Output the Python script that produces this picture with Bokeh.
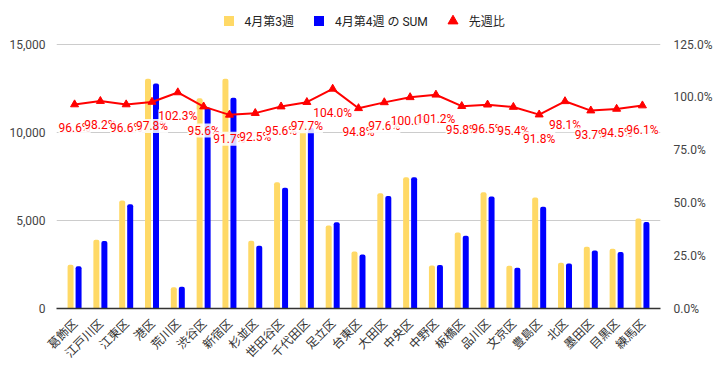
import math
from bokeh.plotting import figure
from bokeh.models import (FactorRange, Range1d, LinearAxis, FixedTicker,
                          NumeralTickFormatter, Legend, LegendItem, ColumnDataSource)
from bokeh.transform import dodge
from bokeh.core.properties import value
from bokeh.embed import file_html
from bokeh.resources import INLINE

wards = ["葛飾区", "江戸川区", "江東区", "港区", "荒川区", "渋谷区", "新宿区", "杉並区",
         "世田谷区", "千代田区", "足立区", "台東区", "大田区", "中央区", "中野区", "板橋区",
         "品川区", "文京区", "豊島区", "北区", "墨田区", "目黒区", "練馬区"]
week3 = [2490, 3910, 6140, 13060, 1210, 11940, 13060, 3855, 7175, 10500, 4715, 3240,
         6545, 7460, 2440, 4315, 6600, 2425, 6300, 2600, 3510, 3400, 5115]
week4 = [2405, 3840, 5930, 12780, 1238, 11415, 11980, 3565, 6860, 10260, 4905, 3070,
         6390, 7460, 2470, 4135, 6370, 2315, 5785, 2550, 3290, 3215, 4915]
ratio_pct = [96.6, 98.2, 96.6, 97.8, 102.3, 95.6, 91.7, 92.5, 95.6, 97.7, 104.0, 94.8,
             97.6, 100.0, 101.2, 95.8, 96.5, 95.4, 91.8, 98.1, 93.7, 94.5, 96.1]
left_ticks = [0, 5000, 10000, 15000]
right_ticks = [0, 0.25, 0.5, 0.75, 1.0, 1.25]

YELLOW = "#FFD966"
BLUE = "#0000FF"
RED = "#FF0000"
FONT = "Roboto, 'Noto Sans CJK JP'"

src = ColumnDataSource(dict(
    ward=wards, w3=week3, w4=week4,
    r=[v / 100 for v in ratio_pct],
    lbl=[f"{v:.1f}%" for v in ratio_pct],
))

# the frame reaches the top of the canvas; the extra headroom holds the legend
HEAD = 7 / 6
p = figure(x_range=FactorRange(factors=wards, range_padding=0.2, range_padding_units="absolute"),
           y_range=Range1d(0, left_ticks[-1] * HEAD), width=725, height=370,
           output_backend="svg", toolbar_location=None,
           min_border_left=56, min_border_right=65, min_border_top=0, min_border_bottom=62)
p.extra_y_ranges = {"pct": Range1d(0, right_ticks[-1] * HEAD)}
p.outline_line_color = None
p.background_fill_color = "white"

bw = 0.232
p.vbar(x=dodge("ward", -0.155, range=p.x_range), top="w3", width=bw, source=src,
       fill_color=YELLOW, line_color=None, border_radius=(2, 2, 0, 0))
p.vbar(x=dodge("ward", 0.155, range=p.x_range), top="w4", width=bw, source=src,
       fill_color=BLUE, line_color=None, border_radius=(2, 2, 0, 0))

p.line(x="ward", y="r", source=src, y_range_name="pct", line_color=RED, line_width=2)
tri = p.scatter(x="ward", y="r", source=src, y_range_name="pct", marker="triangle",
                size=8, fill_color=RED, line_color=RED)

p.text(x="ward", y="r", text="lbl", source=src, y_range_name="pct", y_offset=24,
       text_align="center", text_baseline="middle", text_color=RED,
       text_font=value(FONT), text_font_size="12px",
       background_fill_color="white", background_fill_alpha=0.85)

# axes
p.yaxis.ticker = FixedTicker(ticks=left_ticks)
p.yaxis.formatter = NumeralTickFormatter(format="0,0")
p.yaxis.axis_line_color = None
p.yaxis.major_tick_line_color = None
p.yaxis.minor_tick_line_color = None
p.yaxis.major_label_standoff = 5
p.yaxis.major_label_text_font = FONT
p.yaxis.major_label_text_font_size = "12px"
p.yaxis.major_label_text_color = "#444444"

ra = LinearAxis(y_range_name="pct", ticker=FixedTicker(ticks=right_ticks),
                formatter=NumeralTickFormatter(format="0.0%"))
ra.axis_line_color = None
ra.major_tick_line_color = None
ra.minor_tick_line_color = None
ra.major_label_standoff = 7
ra.major_label_text_font = FONT
ra.major_label_text_font_size = "12px"
ra.major_label_text_color = "#444444"
p.add_layout(ra, "right")

p.xaxis.major_label_orientation = math.pi / 4
p.xaxis.major_tick_line_color = None
p.xaxis.axis_line_color = "#333333"
p.xaxis.axis_line_width = 1.5
p.xaxis.major_label_text_font = "Noto Sans CJK JP"
p.xaxis.major_label_text_font_size = "12px"
p.xaxis.major_label_text_color = "#333333"
p.xaxis.major_label_standoff = 6

p.xgrid.grid_line_color = None
p.ygrid.grid_line_color = "#cccccc"

# legend swatches (hidden renderers that only provide the legend glyphs)
sq3 = p.scatter(x="ward", y="w3", source=src, marker="square", size=10,
                fill_color=YELLOW, line_color=None, visible=False)
sq4 = p.scatter(x="ward", y="w4", source=src, marker="square", size=10,
                fill_color=BLUE, line_color=None, visible=False)
legend = Legend(items=[LegendItem(label="4月第3週", renderers=[sq3]),
                       LegendItem(label="4月第4週 の SUM", renderers=[sq4]),
                       LegendItem(label="先週比", renderers=[tri])],
                orientation="horizontal", location=(159.5, 275.5),
                glyph_width=25, glyph_height=25, label_standoff=4, spacing=12,
                padding=0, margin=0, border_line_color=None, background_fill_alpha=0,
                label_text_font=FONT, label_text_font_size="12px",
                label_text_color="#222222", label_height=12)
p.add_layout(legend)

open("out.html", "w").write(file_html(p, INLINE))
